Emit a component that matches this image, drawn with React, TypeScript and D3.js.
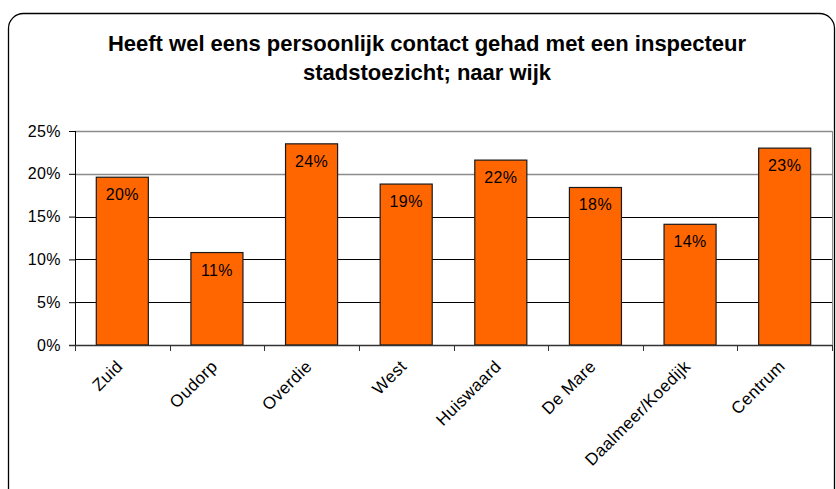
import React, { useEffect, useRef } from 'react';
import * as d3 from 'd3';

const categories = ['Zuid', 'Oudorp', 'Overdie', 'West', 'Huiswaard', 'De Mare', 'Daalmeer/Koedijk', 'Centrum'];
const values = [19.6, 10.8, 23.5, 18.8, 21.6, 18.4, 14.1, 23.0];
const labels = ['20%', '11%', '24%', '19%', '22%', '18%', '14%', '23%'];
const yTicks = [0, 5, 10, 15, 20, 25];
const titleLines = ['Heeft wel eens persoonlijk contact gehad met een inspecteur', 'stadstoezicht; naar wijk'];

const W = 836;
const H = 489;
const FONT = '"Liberation Sans", Arial, Helvetica, sans-serif';

export default function App() {
  const ref = useRef<SVGSVGElement>(null);

  useEffect(() => {
    const svg = d3.select(ref.current);
    svg.selectAll('*').remove();

    const margin = { top: 131, right: 4, bottom: 144, left: 75 };
    const innerW = W - margin.left - margin.right;
    const innerH = H - margin.top - margin.bottom;

    // outer frame with rounded corners
    svg.append('rect').attr('x', 8.5).attr('y', 13.5).attr('width', 826).attr('height', 500)
      .attr('rx', 15).attr('fill', '#fff').attr('stroke', '#000').attr('stroke-width', 1.3);

    const title = svg.append('text').attr('text-anchor', 'middle').attr('font-family', FONT)
      .attr('font-size', 22).attr('font-weight', 'bold').attr('fill', '#000');
    titleLines.forEach((l, i) => {
      title.append('tspan').attr('x', 427).attr('y', 51 + i * 29).text(l);
    });

    const g = svg.append('g').attr('transform', `translate(${margin.left},${margin.top})`);
    const x = d3.scaleBand().domain(categories).range([0, innerW]).paddingInner(0.45).paddingOuter(0.225);
    const y = d3.scaleLinear().domain([0, 25]).range([innerH, 0]);

    // gridlines
    g.selectAll('line.grid').data(yTicks.filter(t => t > 0)).enter().append('line')
      .attr('x1', 0).attr('x2', innerW)
      .attr('y1', d => Math.round(y(d)) + 0.5).attr('y2', d => Math.round(y(d)) + 0.5)
      .attr('stroke', d => d >= 20 ? '#8c8c8c' : '#000')
      .attr('stroke-width', d => d >= 20 ? 1.5 : 1);
    // right border
    g.append('line').attr('x1', innerW + 0.5).attr('x2', innerW + 0.5).attr('y1', y(25)).attr('y2', innerH)
      .attr('stroke', '#8c8c8c').attr('stroke-width', 1);

    // bars
    g.selectAll('rect.bar').data(values).enter().append('rect')
      .attr('x', (d, i) => x(categories[i])!)
      .attr('y', d => y(d))
      .attr('width', x.bandwidth())
      .attr('height', d => innerH - y(d))
      .attr('fill', '#FF6600').attr('stroke', '#1a1a1a').attr('stroke-width', 1.2);

    g.selectAll('text.val').data(values).enter().append('text')
      .attr('x', (d, i) => x(categories[i])! + x.bandwidth() / 2)
      .attr('y', d => y(d) + 23)
      .attr('text-anchor', 'middle').attr('font-family', FONT).attr('font-size', 16)
      .attr('letter-spacing', 0.4).attr('fill', '#000')
      .text((d, i) => labels[i]);

    // y axis
    const yAxis = g.append('g').call(d3.axisLeft(y).tickValues(yTicks).tickSize(6).tickFormat(d => `${d}%`));
    yAxis.select('.domain').attr('stroke', '#000').attr('d', `M0.5,${y(25)}V${innerH}`);
    yAxis.selectAll('line').attr('stroke', '#000');
    yAxis.selectAll('text').attr('font-family', FONT).attr('font-size', 16).attr('letter-spacing', 0.4)
      .attr('fill', '#000').attr('x', -14);

    // x axis
    const step = innerW / categories.length;
    g.append('line').attr('x1', -6).attr('x2', innerW).attr('y1', innerH + 0.5).attr('y2', innerH + 0.5)
      .attr('stroke', '#333').attr('stroke-width', 1.3);
    g.selectAll('line.xt').data(d3.range(categories.length + 1)).enter().append('line')
      .attr('x1', i => Math.round(i * step) + 0.5).attr('x2', i => Math.round(i * step) + 0.5)
      .attr('y1', innerH).attr('y2', innerH + 6).attr('stroke', '#333');

    g.selectAll('text.xl').data(categories).enter().append('text')
      .attr('transform', d => `translate(${x(d)! + x.bandwidth() / 2 - 7},${innerH + 14}) rotate(-45)`)
      .attr('text-anchor', 'end').attr('dy', '0.7em')
      .attr('font-family', FONT).attr('font-size', 17).attr('letter-spacing', 0.4).attr('fill', '#000')
      .text(d => d);
  }, []);

  return <svg ref={ref} width={W} height={H} style={{ position: 'absolute', left: 0, top: 0, background: '#fff' }} />;
}
